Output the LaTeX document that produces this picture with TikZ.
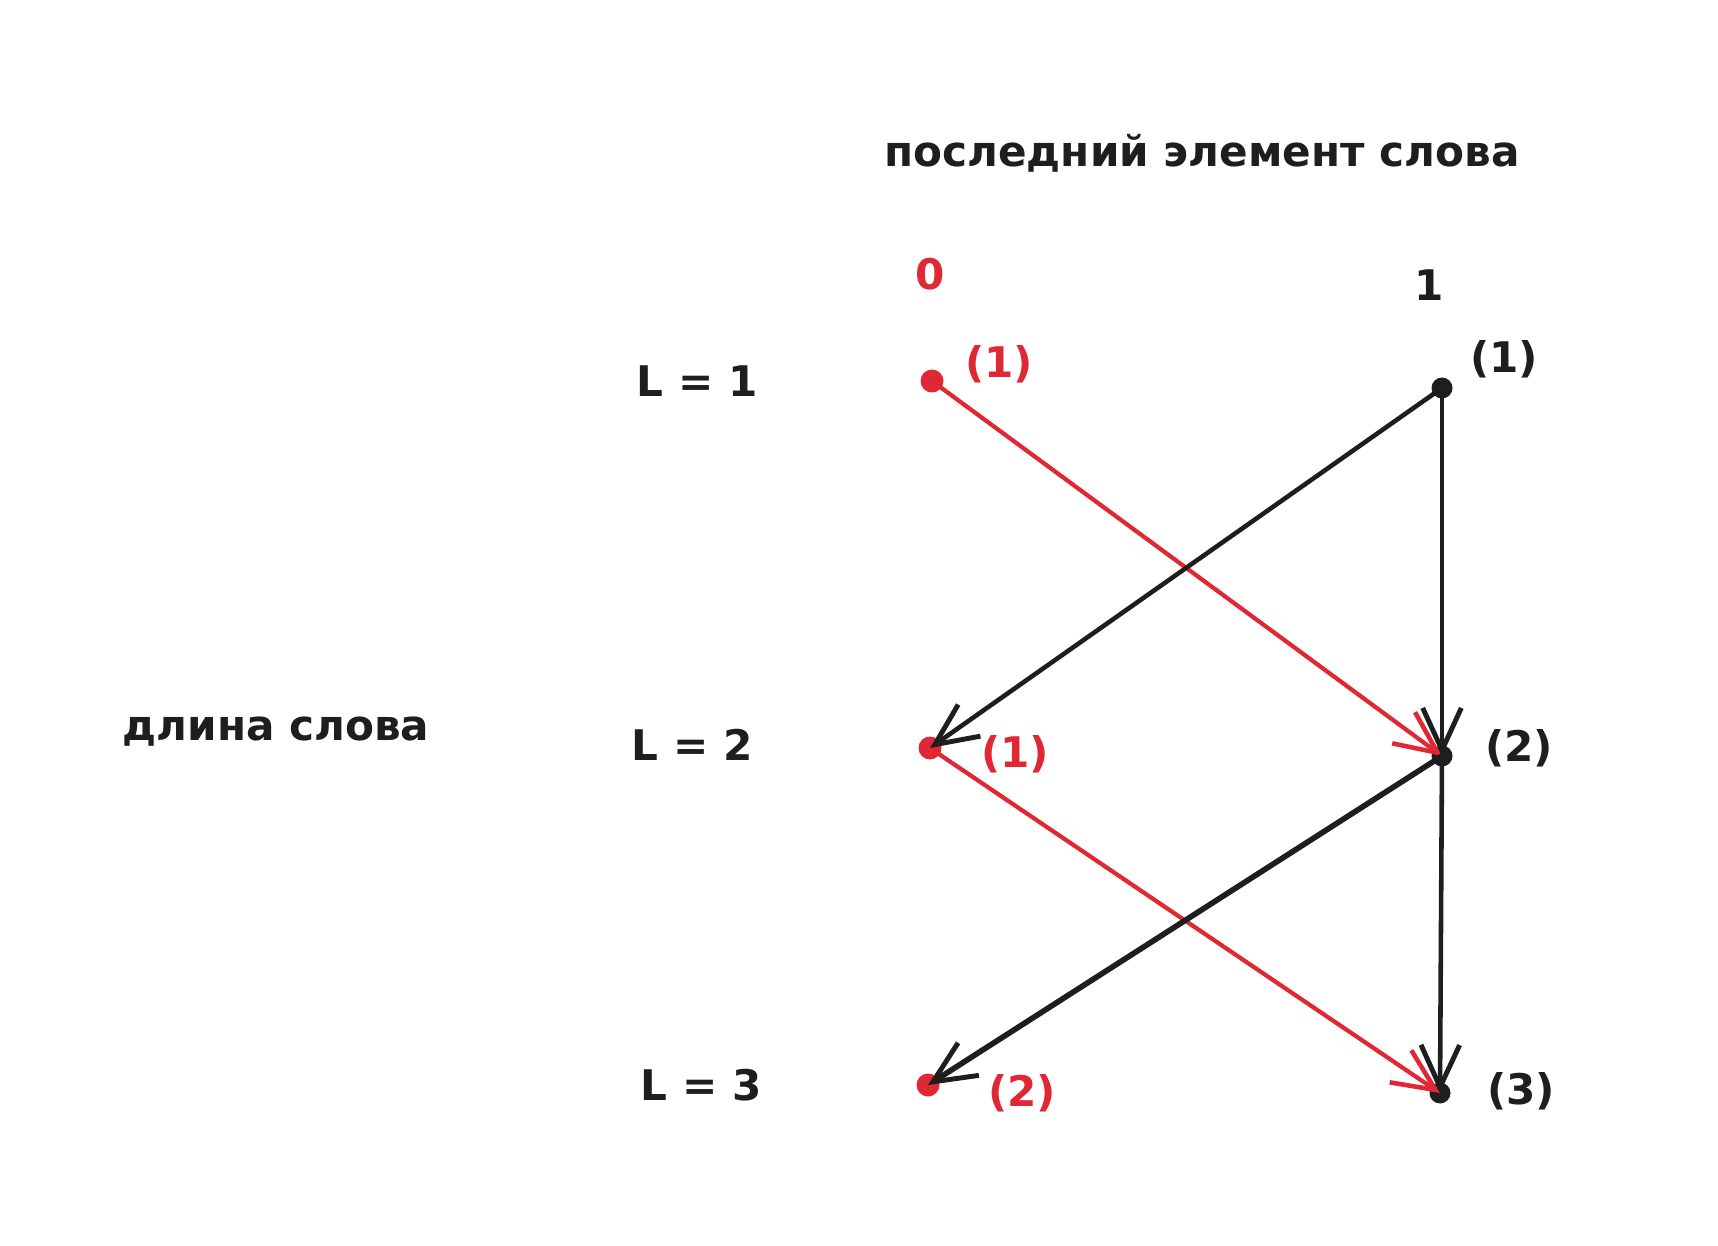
\documentclass[tikz,border=0pt]{standalone}
\usepackage{fontspec}
\setmainfont{DejaVu Sans}
\usetikzlibrary{arrows.meta}
\definecolor{inkblack}{RGB}{30,30,30}
\definecolor{inkred}{RGB}{224,40,52}
\tikzset{zdot/.style={circle, fill=inkred, inner sep=0pt, minimum size=0.46cm}}
\tikzset{odot/.style={circle, fill=inkblack, inner sep=0pt, minimum size=0.42cm}}
\tikzset{redarr/.style={-{Straight Barb[length=24pt,width=22pt,line width=2.6pt]}, draw=inkred, line width=2.4pt, line cap=round}}
\tikzset{blkarr/.style={-{Straight Barb[length=24pt,width=22pt,line width=2.8pt]}, draw=inkblack, line width=2.6pt, line cap=round}}

\begin{document}
\begin{tikzpicture}[x=0.02cm, y=-0.02cm, font=\fontsize{24}{28}\selectfont\bfseries, text=inkblack]
  \useasboundingbox[fill=white] (0,0) rectangle (1718,1246);
  % headings
  \node (title) at (1202,153) {последний элемент слова};
  \node (len) at (276,732) {длина слова};
  \node[text=inkred] (h0) at (930,274) {0};
  \node (h1) at (1429,285) {1};
  \node (l1) at (697,381) {L = 1};
  \node (l2) at (692,745) {L = 2};
  \node (l3) at (701,1085) {L = 3};
  % states
  \node[zdot] (z1) at (932,381) {};
  \node[zdot] (z2) at (930,748) {};
  \node[zdot] (z3) at (928,1085) {};
  \node[odot] (o1) at (1442,388) {};
  \node[odot] (o2) at (1442,756) {};
  \node[odot] (o3) at (1440,1093) {};
  \node[text=inkred] (cz1) at (999,364) {(1)};
  \node[text=inkred] (cz2) at (1015,754) {(1)};
  \node[text=inkred] (cz3) at (1022,1093) {(2)};
  \node (co1) at (1504,359) {(1)};
  \node (co2) at (1519,748) {(2)};
  \node (co3) at (1521,1091) {(3)};
  % transitions
  \draw[redarr] (z1.center) -- (o2.center);
  \draw[redarr] (z2.center) -- (o3.center);
  \draw[blkarr] (o1.center) -- (z2.center);
  \draw[blkarr] (o1.center) -- (o2.center);
  \draw[blkarr, line width=3.2pt] (o2.center) -- (z3.center);
  \draw[blkarr] (o2.center) -- (o3.center);
\end{tikzpicture}
\end{document}
